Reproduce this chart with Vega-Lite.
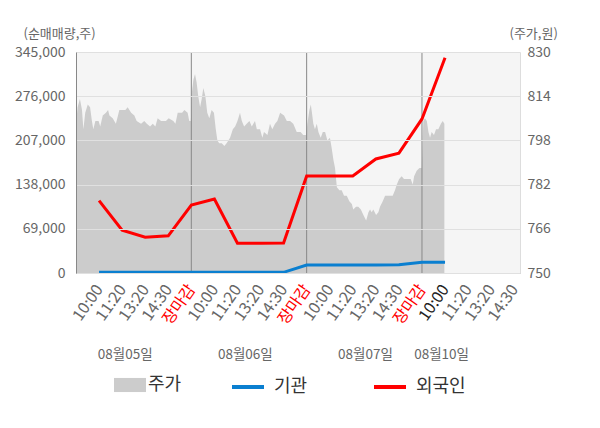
{
  "$schema": "https://vega.github.io/schema/vega-lite/v6.json",
  "autosize": {"type": "none"},
  "width": 444,
  "height": 221,
  "padding": {"left": 76, "top": 52, "right": 80, "bottom": 155},
  "background": "#ffffff",
  "config": {
    "font": "Noto Sans CJK KR",
    "view": {"fill": "#f5f5f5", "stroke": null},
    "axis": {"labelFont": "Noto Sans CJK KR", "titleFont": "Noto Sans CJK KR"},
    "legend": {"labelFont": "Noto Sans CJK KR"}
  },
  "datasets": {
    "price": [
      {"t":0,"p":804},{"t":0.07,"p":810},{"t":0.17,"p":813},{"t":0.26,"p":809},{"t":0.32,"p":802},{"t":0.40,"p":808},{"t":0.51,"p":811},{"t":0.61,"p":810},{"t":0.69,"p":805},{"t":0.75,"p":802},{"t":0.84,"p":805},{"t":0.98,"p":805},{"t":1.05,"p":803},{"t":1.16,"p":807},{"t":1.30,"p":808},{"t":1.39,"p":809},{"t":1.45,"p":807},{"t":1.59,"p":806},{"t":1.73,"p":804},{"t":1.88,"p":809},{"t":2.02,"p":809},{"t":2.14,"p":809},{"t":2.24,"p":810},{"t":2.39,"p":808},{"t":2.53,"p":807},{"t":2.63,"p":805},{"t":2.82,"p":804},{"t":2.96,"p":805},{"t":3.07,"p":804},{"t":3.21,"p":803},{"t":3.33,"p":804},{"t":3.44,"p":803},{"t":3.54,"p":806},{"t":3.69,"p":805},{"t":3.90,"p":805},{"t":4.02,"p":806},{"t":4.22,"p":805},{"t":4.31,"p":804},{"t":4.41,"p":808},{"t":4.60,"p":808},{"t":4.70,"p":809},{"t":4.84,"p":808},{"t":4.91,"p":805},{"t":4.98,"p":805},
      {"t":5.02,"p":815},{"t":5.09,"p":820},{"t":5.16,"p":822},{"t":5.23,"p":819},{"t":5.30,"p":814},{"t":5.38,"p":810},{"t":5.45,"p":813},{"t":5.52,"p":817},{"t":5.61,"p":814},{"t":5.69,"p":808},{"t":5.78,"p":806},{"t":5.88,"p":809},{"t":5.98,"p":808},{"t":6.06,"p":802},{"t":6.13,"p":798},{"t":6.21,"p":797},{"t":6.32,"p":797},{"t":6.43,"p":796},{"t":6.53,"p":797},{"t":6.68,"p":799},{"t":6.80,"p":802},{"t":6.90,"p":803},{"t":7.00,"p":805},{"t":7.11,"p":808},{"t":7.19,"p":805},{"t":7.29,"p":803},{"t":7.40,"p":804},{"t":7.52,"p":805},{"t":7.62,"p":803},{"t":7.76,"p":805},{"t":7.84,"p":802},{"t":7.98,"p":802},{"t":8.08,"p":799},{"t":8.15,"p":801},{"t":8.30,"p":800},{"t":8.41,"p":804},{"t":8.51,"p":802},{"t":8.63,"p":804},{"t":8.73,"p":805},{"t":8.85,"p":808},{"t":9.02,"p":807},{"t":9.14,"p":805},{"t":9.28,"p":805},{"t":9.42,"p":804},{"t":9.57,"p":801},{"t":9.74,"p":801},{"t":9.85,"p":800},{"t":9.98,"p":800},
      {"t":10.03,"p":804},{"t":10.12,"p":809},{"t":10.18,"p":811},{"t":10.23,"p":808},{"t":10.29,"p":804},{"t":10.36,"p":802},{"t":10.44,"p":804},{"t":10.51,"p":801},{"t":10.61,"p":799},{"t":10.70,"p":801},{"t":10.80,"p":801},{"t":10.90,"p":798},{"t":11.01,"p":799},{"t":11.09,"p":795},{"t":11.16,"p":791},{"t":11.23,"p":788},{"t":11.31,"p":781},{"t":11.42,"p":780},{"t":11.52,"p":780},{"t":11.62,"p":778},{"t":11.74,"p":778},{"t":11.85,"p":776},{"t":11.96,"p":775},{"t":12.02,"p":773},{"t":12.14,"p":774},{"t":12.24,"p":774},{"t":12.35,"p":773},{"t":12.46,"p":771},{"t":12.58,"p":769},{"t":12.68,"p":772},{"t":12.75,"p":773},{"t":12.82,"p":772},{"t":12.89,"p":773},{"t":13.01,"p":771},{"t":13.11,"p":772},{"t":13.18,"p":774},{"t":13.30,"p":776},{"t":13.40,"p":778},{"t":13.50,"p":778},{"t":13.62,"p":778},{"t":13.73,"p":778},{"t":13.83,"p":780},{"t":13.91,"p":782},{"t":14.01,"p":784},{"t":14.12,"p":785},{"t":14.22,"p":784},{"t":14.31,"p":784},{"t":14.41,"p":784},{"t":14.51,"p":784},{"t":14.60,"p":782},{"t":14.66,"p":785},{"t":14.77,"p":787},{"t":14.89,"p":788},{"t":14.99,"p":788},
      {"t":15.06,"p":805},{"t":15.13,"p":806},{"t":15.21,"p":805},{"t":15.28,"p":801},{"t":15.35,"p":799},{"t":15.42,"p":801},{"t":15.52,"p":800},{"t":15.61,"p":802},{"t":15.71,"p":802},{"t":15.82,"p":804},{"t":15.90,"p":805},{"t":15.97,"p":804}
    ],
    "flows": [
      {"t":1,"s":"기관","v":1000},{"t":2,"s":"기관","v":1000},{"t":3,"s":"기관","v":1000},{"t":4,"s":"기관","v":1000},{"t":5,"s":"기관","v":1000},{"t":6,"s":"기관","v":1000},{"t":7,"s":"기관","v":1000},{"t":8,"s":"기관","v":1000},{"t":9,"s":"기관","v":1000},{"t":10,"s":"기관","v":12300},{"t":11,"s":"기관","v":12300},{"t":12,"s":"기관","v":12300},{"t":13,"s":"기관","v":12300},{"t":14,"s":"기관","v":13000},{"t":15,"s":"기관","v":16700},{"t":16,"s":"기관","v":16700},
      {"t":1,"s":"외국인","v":113000},{"t":2,"s":"외국인","v":67000},{"t":3,"s":"외국인","v":56000},{"t":4,"s":"외국인","v":58000},{"t":5,"s":"외국인","v":106000},{"t":6,"s":"외국인","v":115500},{"t":7,"s":"외국인","v":46500},{"t":8,"s":"외국인","v":46500},{"t":9,"s":"외국인","v":47000},{"t":10,"s":"외국인","v":151500},{"t":11,"s":"외국인","v":151500},{"t":12,"s":"외국인","v":151500},{"t":13,"s":"외국인","v":178000},{"t":14,"s":"외국인","v":187000},{"t":15,"s":"외국인","v":240500},{"t":16,"s":"외국인","v":336000}
    ],
    "days": [
      {"t":5,"d":"08월05일"},{"t":10,"d":"08월06일"},{"t":15,"d":"08월07일"}
    ]
  },
  "layer": [
    {
      "data": {"name": "price"},
      "mark": {"type": "area", "interpolate": "linear"},
      "encoding": {
        "x": {
          "field": "t", "type": "quantitative",
          "scale": {"domain": [0, 19.25], "nice": false, "zero": false},
          "axis": {
            "orient": "bottom", "title": null, "grid": false, "ticks": false,
            "values": [1,2,3,4,5,6,7,8,9,10,11,12,13,14,15,16,17,18,19],
            "labelExpr": "['10:00','11:20','13:20','14:30','장마감'][(datum.value-1)%5]",
            "labelAngle": -55, "labelAlign": "right", "labelBaseline": "middle",
            "labelPadding": 13, "labelFontSize": 16, "labelOverlap": false, "labelFlush": false, "labelBound": false,
            "labelColor": {"condition": [{"test": "datum.value % 5 === 0", "value": "#ff0000"}, {"test": "datum.value === 16", "value": "#222222"}], "value": "#666666"},
            "domainColor": "#999999"
          }
        },
        "y": {
          "field": "p", "type": "quantitative",
          "scale": {"domain": [750, 830], "nice": false, "zero": false},
          "axis": {
            "orient": "right", "values": [750,766,782,798,814,830],
            "title": "(주가,원)", "titleAngle": 0, "titleAlign": "left", "titleBaseline": "middle",
            "titleX": -11, "titleY": -19, "titleFontSize": 13, "titleFontWeight": "normal", "titleColor": "#666666",
            "labelFontSize": 14, "labelColor": "#666666", "labelPadding": 7, "ticks": false,
            "grid": true, "gridColor": "#e0e0e0", "domainColor": "#dddddd", "zindex": 1
          }
        },
        "y2": {"datum": 750},
        "fill": {
          "datum": "주가",
          "scale": {"range": ["#cccccc"]},
          "legend": {
            "orient": "none", "legendX": 38, "legendY": 317, "title": null, "padding": 0,
            "symbolType": "M-1,-0.44H1V0.44H-1Z", "symbolSize": 1024, "symbolStrokeWidth": 0,
            "labelFontSize": 18, "labelColor": "#333333", "labelOffset": 2
          }
        }
      }
    },
    {
      "data": {"name": "days"},
      "mark": {"type": "rule", "color": "#888888", "strokeWidth": 1},
      "encoding": {
        "x": {
          "field": "t", "type": "quantitative",
          "scale": {"domain": [0, 19.25], "nice": false, "zero": false},
          "axis": {
            "orient": "bottom", "title": null, "grid": false, "ticks": false, "domain": false,
            "values": [2.11, 7.32, 12.53, 15.83],
            "labelExpr": "datum.value < 5 ? '08월05일' : datum.value < 10 ? '08월06일' : datum.value < 15 ? '08월07일' : '08월10일'",
            "labelAngle": 0, "labelAlign": "center", "labelBaseline": "middle",
            "offset": 80, "labelPadding": 1, "labelFontSize": 13.5, "labelColor": "#666666",
            "labelOverlap": false, "labelFlush": false, "labelBound": false
          }
        }
      }
    },
    {
      "data": {"name": "flows"},
      "mark": {"type": "line", "strokeWidth": 3},
      "encoding": {
        "x": {
          "field": "t", "type": "quantitative",
          "scale": {"domain": [0, 19.25], "nice": false, "zero": false},
          "axis": null
        },
        "y": {
          "field": "v", "type": "quantitative",
          "scale": {"domain": [0, 345000], "nice": false},
          "axis": {
            "orient": "left", "values": [0,69000,138000,207000,276000,345000], "format": ",d",
            "title": "(순매매량,주)", "titleAngle": 0, "titleAlign": "left", "titleBaseline": "middle",
            "titleX": -53, "titleY": -19, "titleFontSize": 13, "titleFontWeight": "normal", "titleColor": "#666666",
            "labelFontSize": 14, "labelColor": "#666666", "labelPadding": 11, "ticks": false,
            "grid": false, "domainColor": "#888888", "zindex": 1
          }
        },
        "stroke": {
          "field": "s", "type": "nominal",
          "scale": {"domain": ["기관", "외국인"], "range": ["#0a7fd0", "#ff0000"]},
          "legend": {
            "orient": "none", "legendX": 154, "legendY": 317, "title": null, "padding": 0,
            "direction": "horizontal", "columns": 2, "columnPadding": 58,
            "symbolType": "stroke", "symbolSize": 1024, "symbolStrokeWidth": 4,
            "labelFontSize": 18, "labelColor": "#333333", "labelOffset": 8
          }
        }
      }
    }
  ],
  "resolve": {
    "scale": {"x": "independent", "y": "independent"},
    "axis": {"x": "independent", "y": "independent"}
  }
}
